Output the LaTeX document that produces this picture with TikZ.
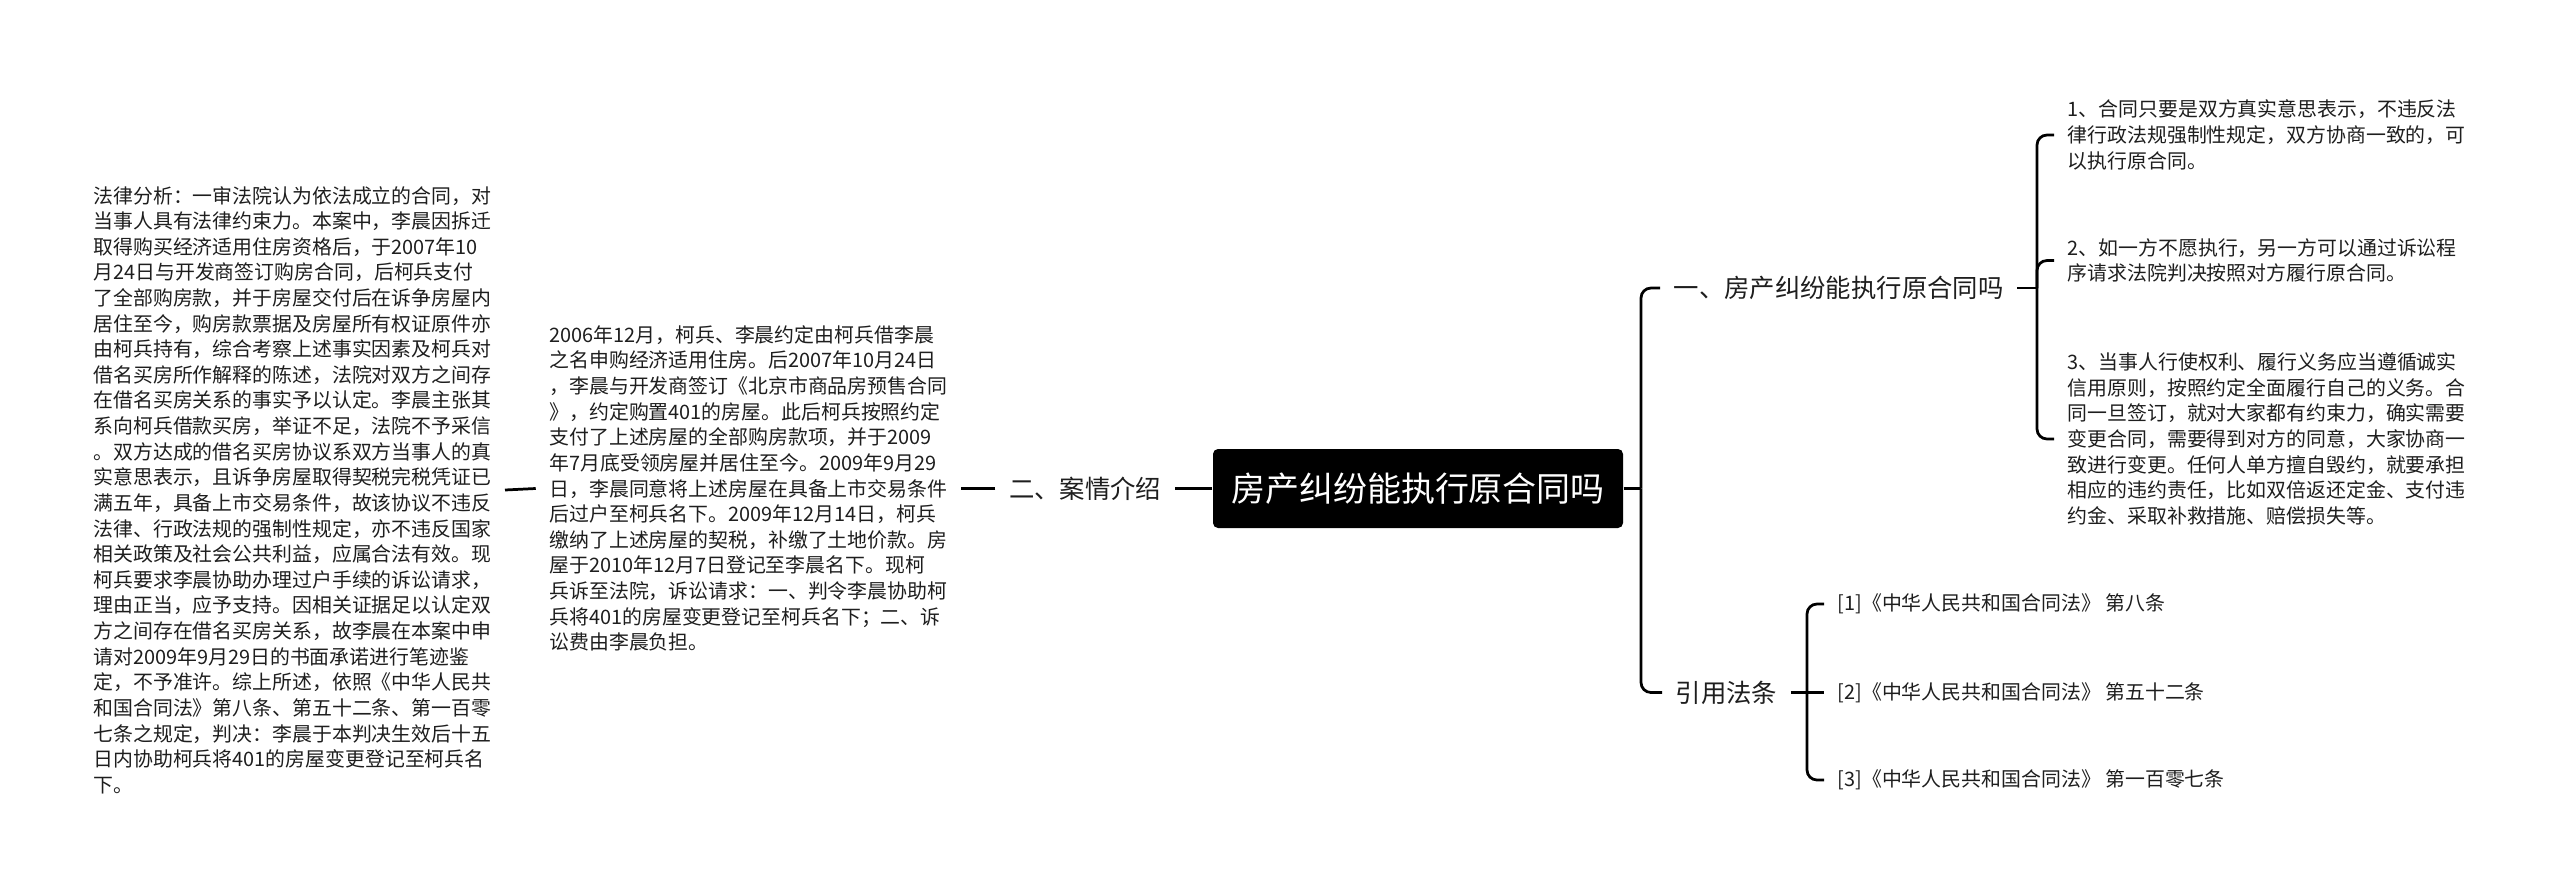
\documentclass[tikz,border=0pt]{standalone}
\usepackage{fontspec}
\setmainfont{Noto Sans CJK SC}
\usepackage{tikz}
\usetikzlibrary{positioning}
\definecolor{mInk}{HTML}{1E1E1E}

\begin{document}
\begin{tikzpicture}[
  para/.style={text=mInk, align=left, inner xsep=0.13cm, inner ysep=0.03cm,
               font=\fontsize{5.66}{7.29}\selectfont},
  branch/.style={text=mInk, inner xsep=0.13cm, font=\fontsize{7.22}{8.6}\selectfont},
  topic/.style={fill=black, text=white, rounded corners=0.05cm, minimum width=4.10cm,
                minimum height=0.79cm, font=\fontsize{9.67}{11}\selectfont},
  link/.style={draw=black, line width=0.78pt, rounded corners=0.1cm},
]
  \useasboundingbox (0,0) rectangle (25.6,-8.92);

  \node[topic] (root) at (14.18,-4.885) {房产纠纷能执行原合同吗};

  % left side
  \node[branch, anchor=east] (case) at (11.75,-4.885) {二、案情介绍};
  \node[para, anchor=east] (fact) at (9.61,-4.885)
    {2006年12月，柯兵、李晨约定由柯兵借李晨\\
     之名申购经济适用住房。后2007年10月24日\\
     ，李晨与开发商签订《北京市商品房预售合同\\
     》，约定购置401的房屋。此后柯兵按照约定\\
     支付了上述房屋的全部购房款项，并于2009\\
     年7月底受领房屋并居住至今。2009年9月29\\
     日，李晨同意将上述房屋在具备上市交易条件\\
     后过户至柯兵名下。2009年12月14日，柯兵\\
     缴纳了上述房屋的契税，补缴了土地价款。房\\
     屋于2010年12月7日登记至李晨名下。现柯\\
     兵诉至法院，诉讼请求：一、判令李晨协助柯\\
     兵将401的房屋变更登记至柯兵名下；二、诉\\
     讼费由李晨负担。};
  \node[para, anchor=east] (analysis) at (5.05,-4.90)
    {法律分析：一审法院认为依法成立的合同，对\\
     当事人具有法律约束力。本案中，李晨因拆迁\\
     取得购买经济适用住房资格后，于2007年10\\
     月24日与开发商签订购房合同，后柯兵支付\\
     了全部购房款，并于房屋交付后在诉争房屋内\\
     居住至今，购房款票据及房屋所有权证原件亦\\
     由柯兵持有，综合考察上述事实因素及柯兵对\\
     借名买房所作解释的陈述，法院对双方之间存\\
     在借名买房关系的事实予以认定。李晨主张其\\
     系向柯兵借款买房，举证不足，法院不予采信\\
     。双方达成的借名买房协议系双方当事人的真\\
     实意思表示，且诉争房屋取得契税完税凭证已\\
     满五年，具备上市交易条件，故该协议不违反\\
     法律、行政法规的强制性规定，亦不违反国家\\
     相关政策及社会公共利益，应属合法有效。现\\
     柯兵要求李晨协助办理过户手续的诉讼请求，\\
     理由正当，应予支持。因相关证据足以认定双\\
     方之间存在借名买房关系，故李晨在本案中申\\
     请对2009年9月29日的书面承诺进行笔迹鉴\\
     定，不予准许。综上所述，依照《中华人民共\\
     和国合同法》第八条、第五十二条、第一百零\\
     七条之规定，判决：李晨于本判决生效后十五\\
     日内协助柯兵将401的房屋变更登记至柯兵名\\
     下。};

  % right side
  \node[branch, anchor=west] (q1) at (16.60,-2.88) {一、房产纠纷能执行原合同吗};
  \node[para, anchor=west] (tip1) at (20.54,-1.35)
    {1、合同只要是双方真实意思表示，不违反法\\
     律行政法规强制性规定，双方协商一致的，可\\
     以执行原合同。};
  \node[para, anchor=west] (tip2) at (20.54,-2.605)
    {2、如一方不愿执行，另一方可以通过诉讼程\\
     序请求法院判决按照对方履行原合同。};
  \node[para, anchor=west] (tip3) at (20.54,-4.39)
    {3、当事人行使权利、履行义务应当遵循诚实\\
     信用原则，按照约定全面履行自己的义务。合\\
     同一旦签订，就对大家都有约束力，确实需要\\
     变更合同，需要得到对方的同意，大家协商一\\
     致进行变更。任何人单方擅自毁约，就要承担\\
     相应的违约责任，比如双倍返还定金、支付违\\
     约金、采取补救措施、赔偿损失等。};

  \node[branch, anchor=west] (laws) at (16.62,-6.925) {引用法条};
  \node[para, anchor=west] (law1) at (18.24,-6.04) {[1]《中华人民共和国合同法》 第八条};
  \node[para, anchor=west] (law2) at (18.24,-6.925) {[2]《中华人民共和国合同法》 第五十二条};
  \node[para, anchor=west] (law3) at (18.24,-7.80) {[3]《中华人民共和国合同法》 第一百零七条};

  \coordinate (rJ) at (16.41,-4.885);
  \coordinate (q1J) at (20.37,-2.88);
  \coordinate (lawsJ) at (18.07,-6.925);

  % connectors
  \draw[link] (root.west) -- (case.east);
  \draw[link] (case.west) -- (fact.east);
  \draw[link] (fact.west) -- (analysis.east);

  \draw[link] (root.east) -- (rJ);
  \draw[link] (rJ) |- (q1.west);
  \draw[link] (rJ) |- (laws.west);

  \draw[link] (q1.east) -- (q1J);
  \draw[link] (q1J) |- (tip1.west);
  \draw[link] (q1J) |- (tip2.west);
  \draw[link] (q1J) |- (tip3.west);

  \draw[link] (laws.east) -- (law2.west);
  \draw[link] (lawsJ) |- (law1.west);
  \draw[link] (lawsJ) |- (law3.west);
\end{tikzpicture}
\end{document}
